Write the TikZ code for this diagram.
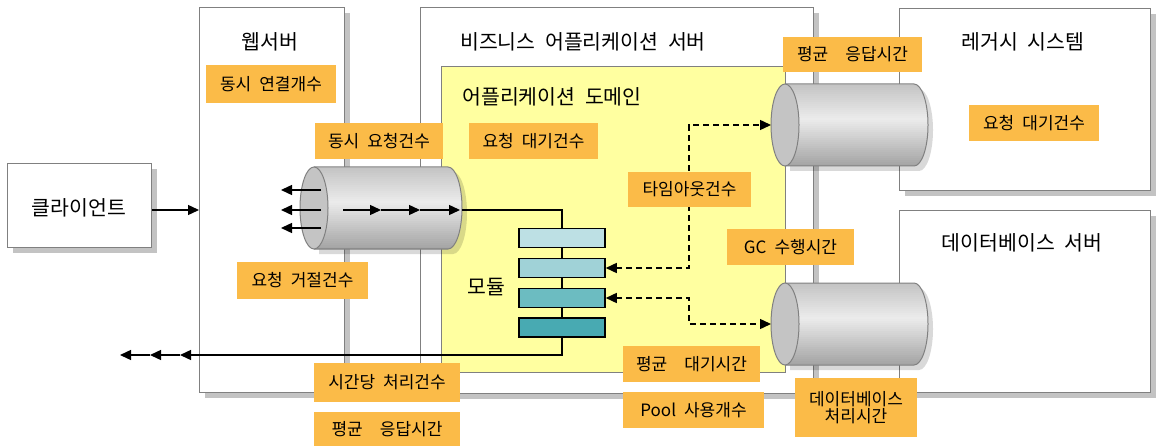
\documentclass[tikz,border=0pt]{standalone}
\usepackage{fontspec}
\setmainfont[WordSpace=2.1]{Noto Sans CJK KR}
\usetikzlibrary{arrows.meta,shadows}
\definecolor{lab}{RGB}{251,187,72}
\definecolor{dom}{RGB}{255,255,160}
\definecolor{edge}{RGB}{128,128,128}
\definecolor{shd}{RGB}{195,195,195}
\definecolor{cyltop}{RGB}{196,196,196}
\definecolor{cylmid}{RGB}{236,236,236}
\definecolor{cylbot}{RGB}{162,162,162}
\definecolor{cylface}{RGB}{196,196,196}
\definecolor{mA}{RGB}{189,224,228}
\definecolor{mB}{RGB}{160,210,215}
\definecolor{mC}{RGB}{108,188,193}
\definecolor{mD}{RGB}{72,170,178}
\newcommand\drawcyl[4]{%
  % #1 name, #2 face centre x, #3 centre y, #4 body length
  \fill[black,opacity=0.15] ({#2+5},{#3-36}) -- ({#2+#4+5},{#3-36}) arc[start angle=-90,end angle=90,x radius=14,y radius=41] -- ({#2+5},{#3+46}) -- cycle;
  \begin{scope}
    \clip (#2,{#3-41}) -- ({#2+#4},{#3-41}) arc[start angle=-90,end angle=90,x radius=14,y radius=41] -- (#2,{#3+41}) -- cycle;
    \foreach \i in {0,...,41}{
      \pgfmathsetmacro\tt{\i/41}
      \pgfmathtruncatemacro\pp{\tt<0.42 ? 100*\tt/0.42 : 100*(1-\tt)/0.58}
      \ifdim\tt pt<0.42pt \colorlet{bandc}{cylmid!\pp!cyltop}\else\colorlet{bandc}{cylmid!\pp!cylbot}\fi
      \fill[bandc] ({#2-1},{#3-41+2*\i}) rectangle ({#2+#4+16},{#3-41+2*\i+2.3});
    }
  \end{scope}
  \draw[edge,line width=1pt] (#2,{#3-41}) -- ({#2+#4},{#3-41}) arc[start angle=-90,end angle=90,x radius=14,y radius=41] -- (#2,{#3+41});
  \filldraw[fill=cylface,draw=edge,line width=1pt] (#2,#3) ellipse[x radius=14,y radius=41];
  \coordinate (#1-w) at ({#2-14},#3);
  \coordinate (#1-e) at ({#2+#4+14},#3);
}
\begin{document}
\begin{tikzpicture}[x=1pt,y=-1pt,
  box/.style={draw=edge,line width=1.3pt,fill=white,anchor=north west,inner sep=0pt,
    drop shadow={shadow xshift=5pt,shadow yshift=-5pt,fill=shd,opacity=1}},
  ttl/.style={inner sep=0pt,font=\fontsize{20.5}{24}\selectfont},
  lbl/.style={fill=lab,inner sep=0pt,align=center,font=\fontsize{17}{20}\selectfont},
  modbox/.style={draw=black,line width=1.5pt,minimum width=86pt,minimum height=19pt,inner sep=0pt},
  conn/.style={line width=1.4pt},
  tip/.style={-{Triangle[length=11pt,width=10pt]}},
  bitip/.style={{Triangle[length=11pt,width=10pt]}-{Triangle[length=11pt,width=10pt]}},
  dsh/.style={line width=1.4pt,dash pattern=on 6pt off 4pt}
]
\useasboundingbox (0,0) rectangle (1158,446);
\fill[white] (0,0) rectangle (1158,446);

% outer boxes
\node[box,minimum width=144pt,minimum height=84pt] (client) at (7,163) {};
\node[box,minimum width=145pt,minimum height=385pt] (web) at (199,7) {};
\node[box,minimum width=393pt,minimum height=386pt] (biz) at (420,7) {};
\node[box,minimum width=251pt,minimum height=182pt] (legacy) at (899,8) {};
\node[box,minimum width=251pt,minimum height=182pt] (db) at (899,210) {};
\node[draw=edge,line width=1.2pt,fill=dom,anchor=north west,inner sep=0pt,minimum width=344pt,minimum height=306pt] (domain) at (441,66) {};

% titles
\node[ttl] (tclient) at (79,208) {클라이언트};
\node[ttl] (tweb) at (270,42) {웹서버};
\node[ttl] (tbiz) at (583,42) {비즈니스 어플리케이션 서버};
\node[ttl] (tdom) at (552,97) {어플리케이션 도메인};
\node[ttl] (tleg) at (1023,42) {레거시 시스템};
\node[ttl] (tdb) at (1022,243) {데이터베이스 서버};
\node[ttl] (tmod) at (486,287) {모듈};

% cylinders
\drawcyl{cylL}{314}{208}{134}
\drawcyl{cylG}{785}{125}{129}
\drawcyl{cylD}{785}{324}{129}

% client -> web
\coordinate (c0) at (client.east |- 0,210);
\draw[conn,tip] (c0) -- (c0 -| web.west);

% arrows inside left cylinder
\foreach \yy/\nm in {190/a,210/b,228/c}{
  \coordinate (o\nm) at (321,\yy);
  \coordinate (p\nm) at (281,\yy);
  \draw[conn,tip] (o\nm) -- (p\nm);
}
\coordinate (r0) at (343,210);
\coordinate (r1) at (381,210);
\coordinate (r2) at (420,210);
\coordinate (r3) at (460,210);
\draw[conn,tip] (r0) -- (r1);
\draw[conn,tip] (r1) -- (r2);
\draw[conn,tip] (r2) -- (r3);

% modules
\node[modbox,fill=mA] (m1) at (562,238) {};
\node[modbox,fill=mB] (m2) at (562,268) {};
\node[modbox,fill=mC] (m3) at (562,298) {};
\node[modbox,fill=mD] (m4) at (562,327.5) {};
\draw[conn] (cylL-e |- 0,210) -| (m1.north);
\draw[conn] (m1.south) -- (m2.north);
\draw[conn] (m2.south) -- (m3.north);
\draw[conn] (m3.south) -- (m4.north);

% return line
\coordinate (q1) at (180,355);
\coordinate (q2) at (150,355);
\coordinate (q3) at (120,355);
\draw[conn,tip] (m4.south) |- (q1);
\draw[conn,tip] (q1) -- (q2);
\draw[conn,tip] (q2) -- (q3);

% dashed connectors
\coordinate (dx) at (689,0);
\draw[dsh,bitip] (m2.east) -- (m2.east -| dx) |- (cylG-w);
\draw[dsh,bitip] (m3.east) -- (m3.east -| dx) |- (cylD-w);

% labels
\node[lbl,minimum width=130pt,minimum height=38pt] (l1) at (271,84) {동시 연결개수};
\node[lbl,minimum width=128pt,minimum height=36pt] (l2) at (379,141) {동시 요청건수};
\node[lbl,minimum width=129pt,minimum height=36pt] (l3) at (533.5,141) {요청 대기건수};
\node[lbl,minimum width=139pt,minimum height=35pt] (l4) at (852.5,54.5) {평균\hspace{1em}응답시간};
\node[lbl,minimum width=130pt,minimum height=36pt] (l5) at (1034,123) {요청 대기건수};
\node[lbl,minimum width=123pt,minimum height=35pt] (l6) at (689.5,189.5) {타임아웃건수};
\node[lbl,minimum width=127pt,minimum height=36pt] (l7) at (790.5,247) {GC 수행시간};
\node[lbl,minimum width=131pt,minimum height=37pt] (l8) at (302.5,280.5) {요청 거절건수};
\node[lbl,minimum width=146pt,minimum height=39pt] (l9) at (387,382.5) {시간당 처리건수};
\node[lbl,minimum width=146pt,minimum height=34pt] (l10) at (387,429) {평균\hspace{1em}응답시간};
\node[lbl,minimum width=137pt,minimum height=36pt] (l11) at (691.5,364) {평균\hspace{1em}대기시간};
\node[lbl,minimum width=141pt,minimum height=36pt] (l12) at (693.5,410) {Pool 사용개수};
\node[lbl,minimum width=122pt,minimum height=59pt] (l13) at (856,407.5) {데이터베이스\\[-3pt]처리시간};
\end{tikzpicture}
\end{document}
